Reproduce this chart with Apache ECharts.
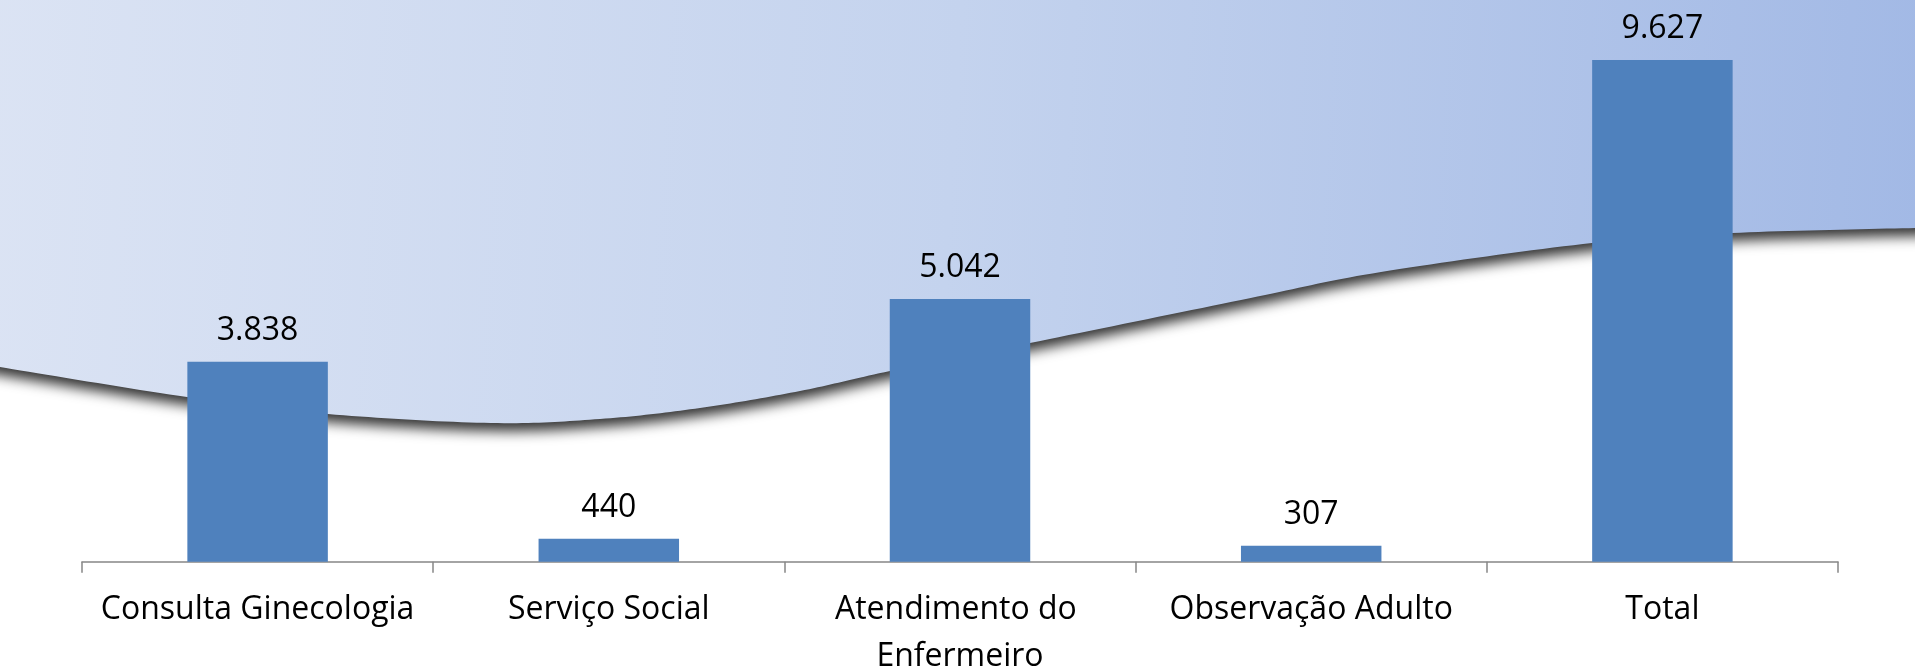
<!DOCTYPE html>
<html>
<head>
<meta charset="utf-8">
<script src="https://cdn.jsdelivr.net/npm/echarts@6/dist/echarts.min.js"></script>
<style>
html,body{margin:0;padding:0;background:#fff;}
#chart{width:1915px;height:670px;}
</style>
</head>
<body>
<div id="chart"></div>
<script>
var categories = ['Consulta Ginecologia', 'Serviço Social', 'Atendimento do Enfermeiro', 'Observação Adulto', 'Total'];
var values = [3838, 440, 5042, 307, 9627];

// decorative wave (background shape, not data)
var wavePts = [[0,367],[187,397],[328,414],[491,423],[600,419],[700,408],[800,391],[890,371],[1030,343],[1241,300],[1381,272],[1592,243],[1732,233],[1915,228]];

function wavePolygon(pts){
  var ext = [[-40, pts[0][1] - 7]].concat(pts).concat([[1960, pts[pts.length-1][1]]]);
  var out = [[-40,-40],[1960,-40]];
  var rev = ext.slice().reverse();
  out.push(rev[0]);
  for (var i = 0; i < rev.length - 1; i++) {
    var p0 = rev[Math.max(i-1,0)], p1 = rev[i], p2 = rev[i+1], p3 = rev[Math.min(i+2, rev.length-1)];
    var c1 = [p1[0] + (p2[0]-p0[0])/6, p1[1] + (p2[1]-p0[1])/6];
    var c2 = [p2[0] - (p3[0]-p1[0])/6, p2[1] - (p3[1]-p1[1])/6];
    for (var k = 1; k <= 20; k++) {
      var t = k/20, u = 1-t;
      var x = u*u*u*p1[0] + 3*u*u*t*c1[0] + 3*u*t*t*c2[0] + t*t*t*p2[0];
      var y = u*u*u*p1[1] + 3*u*u*t*c1[1] + 3*u*t*t*c2[1] + t*t*t*p2[1];
      out.push([x, y]);
    }
  }
  return out;
}

function fmt(v){
  return String(v).replace(/\B(?=(\d{3})+(?!\d))/g, '.');
}

var chart = echarts.init(document.getElementById('chart'), null, {renderer:'canvas'});
chart.setOption({
  backgroundColor: '#ffffff',
  animation: false,
  graphic: [{
    type: 'polygon',
    z: -10,
    silent: true,
    shape: { points: wavePolygon(wavePts) },
    style: {
      fill: {
        type: 'linear', x: 0, y: 0, x2: 1, y2: 0.25,
        colorStops: [
          {offset: 0, color: '#dce4f4'},
          {offset: 0.5, color: '#c4d3ee'},
          {offset: 1, color: '#a1b8e5'}
        ]
      },
      shadowColor: 'rgba(0,0,0,0.8)',
      shadowBlur: 13,
      shadowOffsetY: 8
    }
  }],
  grid: {
    left: 82, right: 77, top: 40.6, bottom: 108.3,
    containLabel: false,
    outerBoundsMode: 'none'
  },
  xAxis: {
    type: 'category',
    data: categories,
    axisLine: { show: true, lineStyle: { color: '#868686', width: 1.5 } },
    axisTick: { show: true, length: 11, lineStyle: { color: '#868686', width: 1.5 } },
    axisLabel: {
      interval: 0,
      margin: 25,
      color: '#000',
      fontFamily: 'Open Sans',
      fontSize: 32,
      lineHeight: 47,
      width: 340,
      overflow: 'break'
    },
    splitLine: { show: false }
  },
  yAxis: {
    type: 'value',
    min: 0,
    max: 10000,
    show: false,
    splitLine: { show: false }
  },
  series: [{
    type: 'bar',
    data: values,
    barCategoryGap: '60%',
    itemStyle: { color: '#4f81bd' },
    label: {
      show: true,
      position: 'top',
      distance: 15,
      color: '#000',
      fontFamily: 'Open Sans',
      fontSize: 32,
      lineHeight: 32,
      formatter: function(p){ return fmt(p.value); }
    }
  }]
});
</script>
</body>
</html>
